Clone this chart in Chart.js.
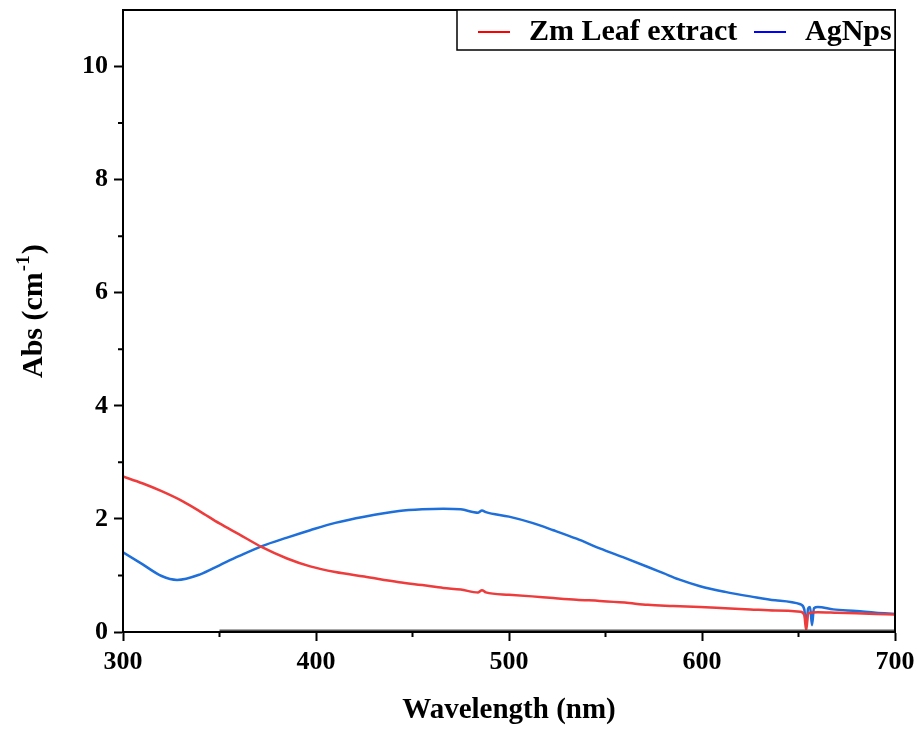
<!DOCTYPE html>
<html>
<head>
<meta charset="utf-8">
<script src="https://cdn.jsdelivr.net/npm/chart.js@4.4.1/dist/chart.umd.min.js"></script>
<style>
  html, body { margin: 0; padding: 0; background: #fff; }
  #wrap { width: 918px; height: 730px; }
</style>
</head>
<body>
<div id="wrap"><canvas id="absChart" width="918" height="730"></canvas></div>
<script>
// Zm Leaf extract (red)
const leafWl  = [300, 310, 320, 331, 340, 350, 360, 372, 385, 397, 410, 425, 443, 455, 466, 475, 484, 486, 488, 500, 512, 523, 535, 547, 560, 572, 585, 599, 612, 625, 638, 651, 653, 654, 655, 660, 670, 680, 690, 700];
const leafAbs = [2.75, 2.63, 2.49, 2.31, 2.13, 1.92, 1.73, 1.50, 1.30, 1.16, 1.06, 0.98, 0.88, 0.83, 0.78, 0.75, 0.70, 0.74, 0.70, 0.66, 0.63, 0.60, 0.57, 0.55, 0.52, 0.48, 0.46, 0.44, 0.42, 0.40, 0.38, 0.36, 0.30, 0.03, 0.33, 0.35, 0.34, 0.33, 0.32, 0.31];

// AgNps (blue)
const agWl  = [300, 310, 320, 328, 340, 350, 360, 372, 385, 397, 410, 425, 443, 455, 466, 475, 484, 486, 488, 500, 512, 523, 535, 547, 560, 572, 580, 588, 599, 612, 625, 638, 651, 653, 654, 655, 656, 657, 658, 660, 668, 680, 690, 700];
const agAbs = [1.41, 1.20, 0.99, 0.92, 1.02, 1.18, 1.34, 1.52, 1.67, 1.80, 1.93, 2.04, 2.14, 2.17, 2.18, 2.17, 2.11, 2.15, 2.12, 2.04, 1.93, 1.80, 1.65, 1.48, 1.31, 1.15, 1.04, 0.93, 0.81, 0.71, 0.63, 0.56, 0.49, 0.40, 0.10, 0.42, 0.44, 0.12, 0.42, 0.44, 0.40, 0.37, 0.34, 0.32];

// flat baseline trace (grey)
const baseWl  = [350, 400, 450, 500, 550, 600, 650, 700];
const baseAbs = [0.02, 0.02, 0.02, 0.02, 0.02, 0.02, 0.02, 0.02];

const xMajor = [300, 400, 500, 600, 700];
const xMinor = [350, 450, 550, 650];
const yMajor = [0, 2, 4, 6, 8, 10];
const yMinor = [1, 3, 5, 7, 9];

const seriesNames = ["Zm Leaf extract", "AgNps"];
const RED = "#ee3b3b";
const BLUE = "#1e6fd9";

const pts = (xs, ys) => xs.map((x, i) => ({ x: x, y: ys[i] }));
const FONT = "'Liberation Serif', 'Times New Roman', serif";

// frame, minor ticks, y title with superscript and boxed legend
const decor = {
    id: "decor",
    afterDraw(chart) {
        const ctx = chart.ctx;
        const a = chart.chartArea;
        const xs = chart.scales.x, ys = chart.scales.y;
        ctx.save();
        ctx.strokeStyle = "#000";
        ctx.lineWidth = 2;
        ctx.strokeRect(a.left, a.top, a.right - a.left, a.bottom - a.top);
        ctx.beginPath();
        xMinor.forEach(v => {
            const p = xs.getPixelForValue(v);
            ctx.moveTo(p, a.bottom);
            ctx.lineTo(p, a.bottom + 5);
        });
        yMinor.forEach(v => {
            const p = ys.getPixelForValue(v);
            ctx.moveTo(a.left, p);
            ctx.lineTo(a.left - 5, p);
        });
        ctx.stroke();

        // y axis title
        ctx.save();
        ctx.translate(42, 378);
        ctx.rotate(-Math.PI / 2);
        ctx.fillStyle = "#000";
        ctx.textBaseline = "alphabetic";
        ctx.textAlign = "left";
        ctx.font = "bold 30px " + FONT;
        let tx = 0;
        ctx.fillText("Abs (cm", tx, 0);
        tx += ctx.measureText("Abs (cm").width + 1;
        ctx.font = "bold 19px " + FONT;
        ctx.fillText("-1", tx, -13);
        tx += ctx.measureText("-1").width + 1;
        ctx.font = "bold 30px " + FONT;
        ctx.fillText(")", tx, 0);
        ctx.restore();

        // legend
        const lx = 457, ly = a.top, lw = a.right - 457, lh = 40;
        ctx.fillStyle = "#fff";
        ctx.fillRect(lx, ly, lw, lh);
        ctx.lineWidth = 1.5;
        ctx.strokeRect(lx, ly, lw, lh);
        ctx.font = "bold 30px " + FONT;
        ctx.textBaseline = "middle";
        ctx.fillStyle = "#000";
        const items = [
            { c: "#ff0000", t: seriesNames[0], x: 478 },
            { c: "#0000ff", t: seriesNames[1], x: 754 }
        ];
        items.forEach(it => {
            ctx.strokeStyle = it.c;
            ctx.lineWidth = 2;
            ctx.beginPath();
            ctx.moveTo(it.x, ly + 22);
            ctx.lineTo(it.x + 32, ly + 22);
            ctx.stroke();
            ctx.fillText(it.t, it.x + 51, ly + 22);
        });
        ctx.restore();
    }
};

new Chart(document.getElementById("absChart"), {
    type: "line",
    data: {
        datasets: [
            {
                label: "baseline",
                data: pts(baseWl, baseAbs),
                borderColor: "#555",
                borderWidth: 2.5,
                pointRadius: 0,
                tension: 0
            },
            {
                label: seriesNames[0],
                data: pts(leafWl, leafAbs),
                borderColor: RED,
                borderWidth: 2.5,
                pointRadius: 0,
                cubicInterpolationMode: "monotone"
            },
            {
                label: seriesNames[1],
                data: pts(agWl, agAbs),
                borderColor: BLUE,
                borderWidth: 2.5,
                pointRadius: 0,
                cubicInterpolationMode: "monotone"
            }
        ]
    },
    options: {
        responsive: false,
        animation: false,
        layout: { padding: { top: 10, right: 23, left: 0, bottom: 0 } },
        plugins: {
            legend: { display: false },
            tooltip: { enabled: false }
        },
        scales: {
            x: {
                type: "linear",
                min: 300,
                max: 700,
                afterBuildTicks: s => { s.ticks = xMajor.map(v => ({ value: v })); },
                afterFit: s => { s.height = 98; s.paddingLeft = 0; s.paddingRight = 0; },
                grid: { drawOnChartArea: false, drawTicks: true, tickLength: 9, tickWidth: 2, tickColor: "#000" },
                border: { display: true, color: "#000", width: 2 },
                ticks: {
                    color: "#000",
                    padding: 6,
                    maxRotation: 0,
                    font: { family: FONT, size: 26, weight: "bold" }
                },
                title: {
                    display: true,
                    text: "Wavelength (nm)",
                    color: "#000",
                    padding: { top: 0, bottom: 2 },
                    font: { family: FONT, size: 29, weight: "bold" }
                }
            },
            y: {
                min: 0,
                max: 11,
                afterBuildTicks: s => { s.ticks = yMajor.map(v => ({ value: v })); },
                afterFit: s => { s.width = 123; s.paddingTop = 0; s.paddingBottom = 0; },
                grid: { drawOnChartArea: false, drawTicks: true, tickLength: 9, tickWidth: 2, tickColor: "#000" },
                border: { display: true, color: "#000", width: 2 },
                ticks: {
                    color: "#000",
                    padding: 6,
                    font: { family: FONT, size: 26, weight: "bold" }
                },
                title: { display: false }
            }
        }
    },
    plugins: [decor]
});
</script>
</body>
</html>
